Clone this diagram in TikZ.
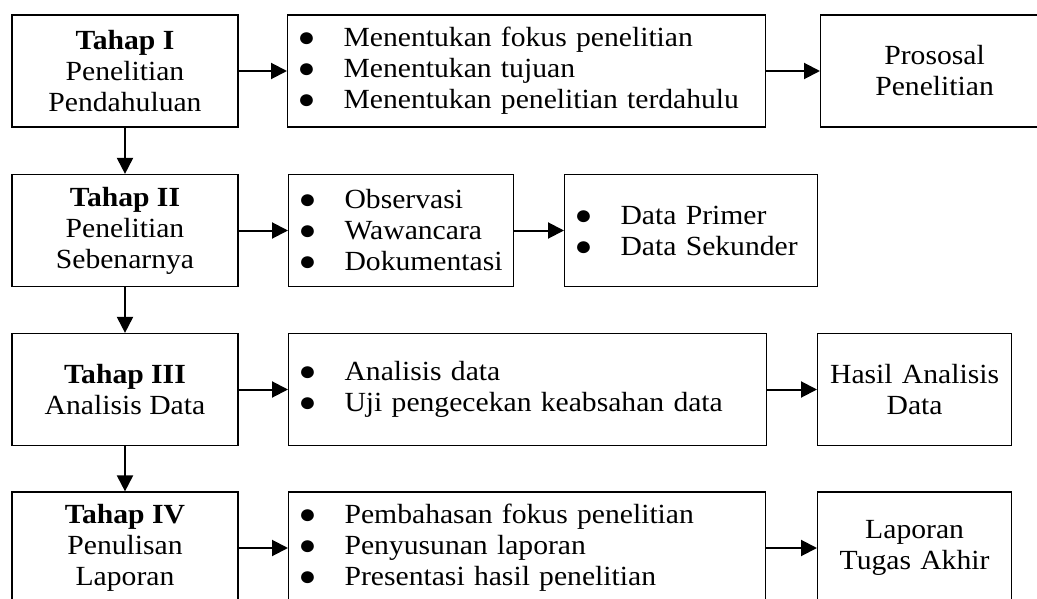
\documentclass[tikz,border=0pt]{standalone}
\usepackage{fontspec}
\setmainfont{Liberation Serif}[FakeStretch=1.07]
\usetikzlibrary{arrows.meta}

\newcommand{\huruf}{\fontsize{27.7}{31}\selectfont}
\newcommand{\titik}{\hspace*{10pt}\makebox[46pt][l]{●}}

\tikzset{
    tahap/.style={draw, line width=1.2pt, minimum width=226pt, minimum height=112pt, align=center, inner sep=0pt},
    daftar/.style={draw, line width=1.2pt, text width=#1, minimum height=112pt, align=left, inner sep=0pt, anchor=west},
    hasil/.style={draw, line width=1.2pt, text width=#1, minimum height=112pt, align=center, inner sep=0pt, anchor=west},
    panah/.style={-{Triangle[length=16pt,width=16pt]}, line width=2pt}
}

\begin{document}
\begin{tikzpicture}[x=1pt, y=-1pt, every node/.style={font=\huruf}]
    \clip (0,0) rectangle (1037,599);
    % Tahap
    \node[tahap] (t1) at (125,71) {\textbf{Tahap I}\\Penelitian\\Pendahuluan};
    \node[tahap] (t2) at (125,230.5) {\textbf{Tahap II}\\Penelitian\\Sebenarnya};
    \node[tahap] (t3) at (125,389.5) {\textbf{Tahap III}\\Analisis Data};
    \node[tahap] (t4) at (125,548) {\textbf{Tahap IV}\\Penulisan\\Laporan};
    % Kegiatan
    \node[daftar=478pt] (k1) at (287,71) {\titik Menentukan fokus penelitian\\\titik Menentukan tujuan\\\titik Menentukan penelitian terdahulu};
    \node[daftar=225pt] (k2) at (288,230.5) {\titik Observasi\\\titik Wawancara\\\titik Dokumentasi};
    \node[daftar=253pt] (d2) at (564,230.5) {\titik Data Primer\\\titik Data Sekunder};
    \node[daftar=478pt] (k3) at (288,389.5) {\titik Analisis data\\\titik Uji pengecekan keabsahan data};
    \node[daftar=477pt] (k4) at (288,548) {\titik Pembahasan fokus penelitian\\\titik Penyusunan laporan\\\titik Presentasi hasil penelitian};
    % Hasil
    \node[hasil=228pt] (h1) at (820,71) {Prososal\\Penelitian};
    \node[hasil=194pt] (h3) at (817,389.5) {Hasil Analisis\\Data};
    \node[hasil=194pt] (h4) at (817,548) {Laporan\\Tugas Akhir};
    % Panah
    \draw[panah] (t1.south) -- (t2.north);
    \draw[panah] (t2.south) -- (t3.north);
    \draw[panah] (t3.south) -- (t4.north);
    \draw[panah] (t1.east) -- (k1.west);
    \draw[panah] (t2.east) -- (k2.west);
    \draw[panah] (t3.east) -- (k3.west);
    \draw[panah] (t4.east) -- (k4.west);
    \draw[panah] (k1.east) -- (h1.west);
    \draw[panah] (k2.east) -- (d2.west);
    \draw[panah] (k3.east) -- (h3.west);
    \draw[panah] (k4.east) -- (h4.west);
\end{tikzpicture}
\end{document}
